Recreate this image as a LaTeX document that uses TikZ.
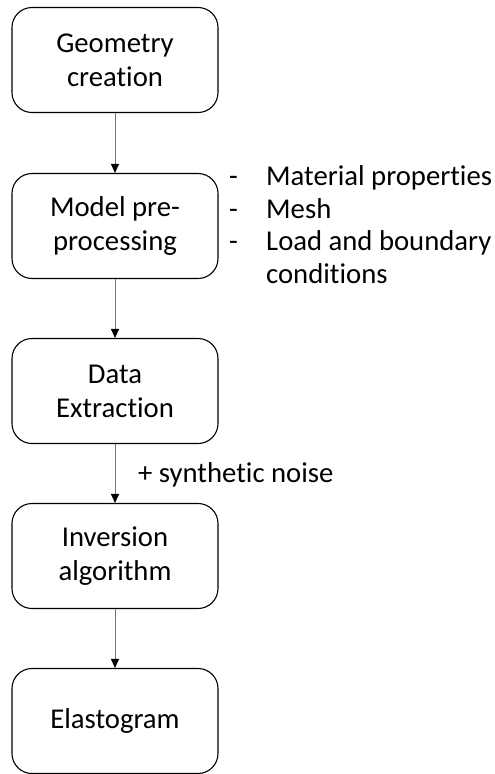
\documentclass[tikz,border=0pt]{standalone}
\usepackage{fontspec}
\setmainfont[Ligatures={NoCommon,NoRequired,NoContextual,NoRare},RawFeature={-liga;-clig;-dlig;-calt}]{Carlito}
\usetikzlibrary{arrows.meta}
\newcommand{\nti}{t\kern0pt i}
\begin{document}
\begin{tikzpicture}[x=1pt,y=-1pt,
  stepbox/.style={draw=black, line width=1.1pt, rounded corners=20pt, minimum width=206pt, minimum height=105pt, align=center, font=\fontsize{28.7}{34}\selectfont, inner sep=0pt},
  flow/.style={draw=black!55, line width=0.9pt, -{Triangle[length=9pt,width=8pt,color=black]}},
  side/.style={anchor=base west, inner sep=0pt, font=\fontsize{28.7}{34}\selectfont}]
\useasboundingbox (0,0) rectangle (495,774);
\node[stepbox] (b1) at (115,60) {Geometry\\crea\nti on};
\node[stepbox] (b2) at (115,226) {Model pre-\\processing};
\node[stepbox] (b3) at (115,391) {Data\\Extrac\nti on};
\node[stepbox] (b4) at (115,556) {Inversion\\algorithm};
\node[stepbox] (b5) at (115,721) {Elastogram};
\draw[flow] (b1) -- (b2);
\draw[flow] (b2) -- (b3);
\draw[flow] (b3) -- (b4);
\draw[flow] (b4) -- (b5);
\node[side] (d1) at (229,185) {-};
\node[side] (d2) at (229,218) {-};
\node[side] (d3) at (229,250) {-};
\node[side] (t1) at (266,185) {Material proper\nti es};
\node[side] (t2) at (266,218) {Mesh};
\node[side] (t3) at (266,250) {Load and boundary};
\node[side] (t4) at (266,283) {condi\nti ons};
\node[side] (noise) at (138,482) {+ synthe\nti c noise};
\end{tikzpicture}
\end{document}
